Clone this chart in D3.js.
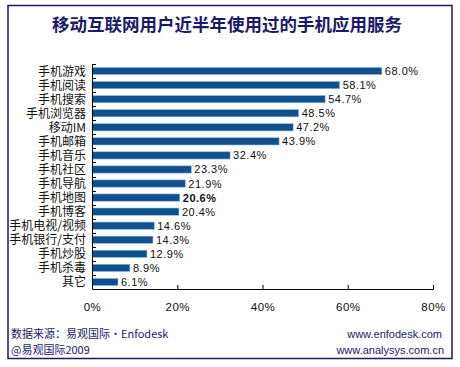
<!DOCTYPE html>
<html><head><meta charset="utf-8">
<script src="https://cdn.jsdelivr.net/npm/d3@7"></script>
<style>body{margin:0;background:#fff}svg{display:block}</style>
</head><body>
<script>
const categories = ["手机游戏","手机阅读","手机搜索","手机浏览器","移动IM","手机邮箱","手机音乐","手机社区","手机导航","手机地图","手机博客","手机电视/视频","手机银行/支付","手机炒股","手机杀毒","其它"];
const values = [68.0,58.1,54.7,48.5,47.2,43.9,32.4,23.3,21.9,20.6,20.4,14.6,14.3,12.9,8.9,6.1];
const xTicks = [0,20,40,60,80];
const title = "移动互联网用户近半年使用过的手机应用服务";

const W=460,H=367;
const svg=d3.select("body").append("svg").attr("width",W).attr("height",H);
const cjk="'Noto Sans CJK SC','Liberation Sans',sans-serif";
const lat="'Liberation Sans',Arial,sans-serif";
const navy="#1a1a66";

svg.append("rect").attr("x",8).attr("y",5.5).attr("width",444).attr("height",353)
  .attr("fill","#fff").attr("stroke",navy).attr("stroke-width",1.5);

svg.append("text").attr("x",227).attr("y",31).attr("text-anchor","middle")
  .attr("font-family",cjk).attr("font-weight","bold").attr("font-size",17.5)
  .attr("fill",navy).text(title);

const x=d3.scaleLinear().domain([0,80]).range([92,433]);
const y=d3.scaleBand().domain(categories).range([64,289]).paddingInner(0.48).paddingOuter(0.24);

svg.append("g").selectAll("rect").data(values).join("rect")
  .attr("x",x(0)).attr("y",(d,i)=>y(categories[i]))
  .attr("width",d=>x(d)-x(0)).attr("height",y.bandwidth())
  .attr("fill","#11508f").attr("stroke","#9cc0e2").attr("stroke-width",0.6);

svg.append("g").selectAll("text").data(values).join("text")
  .attr("x",d=>x(d)+3).attr("y",(d,i)=>y(categories[i])+y.bandwidth()/2+4)
  .attr("font-family",lat).attr("font-size",11).attr("fill","#111")
  .attr("font-weight",(d,i)=>categories[i]==="手机地图"?"bold":"normal")
  .attr("letter-spacing",0.5)
  .text(d=>d.toFixed(1)+"%");

svg.append("g").selectAll("text").data(categories).join("text")
  .attr("x",86).attr("y",d=>y(d)+y.bandwidth()/2+4.5).attr("text-anchor","end")
  .attr("font-family",cjk).attr("font-size",12).attr("fill","#111").text(d=>d);

// y axis
const yAxis=svg.append("g");
yAxis.append("line").attr("x1",92.5).attr("x2",92.5).attr("y1",64).attr("y2",289).attr("stroke","#000");
const step=y.step();
yAxis.selectAll("line.t").data(d3.range(categories.length)).join("line").attr("class","t")
  .attr("x1",92.5).attr("x2",96).attr("y1",i=>Math.round(64+i*(225/16))+0.5).attr("y2",i=>Math.round(64+i*(225/16))+0.5)
  .attr("stroke","#000");

// x axis
const xa=svg.append("g").attr("transform","translate(0,289)")
  .call(d3.axisBottom(x).tickValues(xTicks).tickSize(-4).tickPadding(14).tickFormat(d=>d+"%"));
xa.select(".domain").attr("stroke","#000");
xa.selectAll(".tick line").attr("stroke","#000");
xa.selectAll("text").attr("font-family",lat).attr("font-size",11.5).attr("fill","#111").attr("letter-spacing",0.5);

svg.append("text").attr("x",11).attr("y",338).attr("font-family",cjk).attr("font-size",11).attr("fill",navy)
  .text("数据来源：易观国际·Enfodesk");
svg.append("text").attr("x",11).attr("y",354).attr("font-family",cjk).attr("font-size",11).attr("fill",navy)
  .text("@易观国际2009");
svg.append("text").attr("x",442).attr("y",338).attr("text-anchor","end").attr("font-family",lat).attr("font-size",11).attr("fill",navy)
  .text("www.enfodesk.com");
svg.append("text").attr("x",444).attr("y",354).attr("text-anchor","end").attr("font-family",lat).attr("font-size",11).attr("fill",navy)
  .text("www.analysys.com.cn");
</script>
</body></html>
